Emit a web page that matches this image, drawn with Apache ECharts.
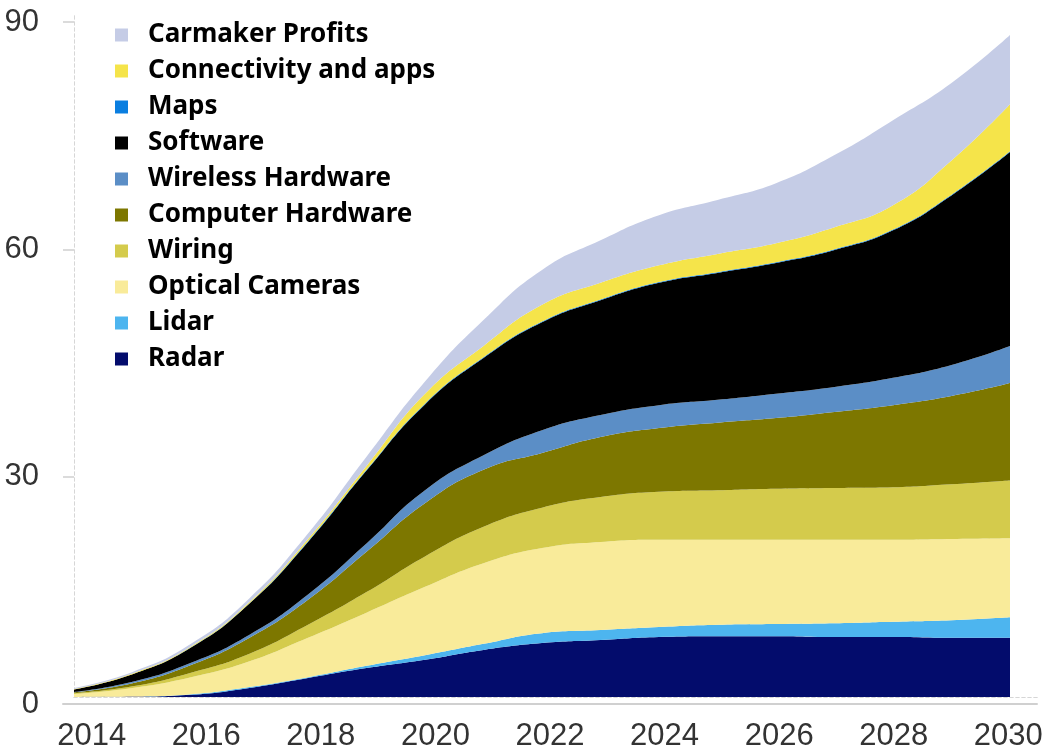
<!DOCTYPE html>
<html>
<head>
<meta charset="utf-8">
<script src="https://cdn.jsdelivr.net/npm/echarts@6/dist/echarts.min.js"></script>
<style>
  html, body { margin: 0; padding: 0; background: #fff; }
  #chart { width: 1050px; height: 752px; }
</style>
</head>
<body>
<div id="chart"></div>
<script>
// years shown on the axis
const years = ['2014', '2015', '2016', '2017', '2018', '2019', '2020', '2021', '2022',
  '2023', '2024', '2025', '2026', '2027', '2028', '2029', '2030'];
const yTicks = [0, 30, 60, 90];

// values per layer, bottom of the stack first
const radar = [0, 0.05, 0.3, 1.2, 2.5, 3.8, 4.9, 6.2, 7.1, 7.5, 7.9, 8.0, 8.0, 7.9, 7.9, 7.8, 7.8];
const lidar = [0, 0, 0.05, 0.1, 0.1, 0.3, 0.6, 0.8, 1.3, 1.3, 1.3, 1.5, 1.6, 1.8, 2.0, 2.3, 2.7];
const opticalCameras = [0.4, 1.15, 2.25, 3.4, 5.2, 7.0, 9.0, 10.6, 11.2, 11.6, 11.5, 11.2, 11.1, 11.0, 10.8, 10.7, 10.4];
const wiring = [0.1, 0.2, 0.6, 1.0, 1.7, 2.7, 4.0, 4.8, 5.3, 5.9, 6.3, 6.5, 6.7, 6.8, 6.9, 7.2, 7.6];
const computerHardware = [0.1, 0.4, 1.0, 2.1, 3.3, 5.3, 7.0, 7.5, 7.2, 7.9, 8.4, 8.9, 9.3, 10.0, 10.8, 11.6, 12.8];
const wirelessHardware = [0.05, 0.2, 0.3, 0.4, 0.7, 1.1, 1.7, 1.9, 3.0, 2.9, 3.0, 3.0, 3.2, 3.3, 3.6, 4.1, 4.9];
const software = [0.35, 1.0, 2.0, 4.1, 6.9, 9.6, 11.3, 12.8, 14.2, 15.1, 16.1, 16.7, 17.2, 18.0, 19.4, 22.3, 25.5];
const maps = [0, 0, 0.05, 0.05, 0.1, 0.1, 0.1, 0.1, 0.1, 0.1, 0.1, 0.1, 0.1, 0.1, 0.1, 0.1, 0.1];
const connectivity = [0.05, 0.1, 0.1, 0.15, 0.3, 0.5, 1.3, 1.5, 2.2, 2.2, 2.2, 2.4, 2.5, 2.9, 3.2, 4.5, 6.2];
const carmakerProfits = [0.15, 0.2, 0.35, 0.5, 0.7, 1.2, 1.6, 3.4, 4.6, 5.6, 6.6, 7.1, 7.9, 9.5, 11.2, 10.2, 9.1];

const layers = [
  { name: 'Radar', data: radar, color: '#030c6c' },
  { name: 'Lidar', data: lidar, color: '#4db5ef' },
  { name: 'Optical Cameras', data: opticalCameras, color: '#f9eb9a' },
  { name: 'Wiring', data: wiring, color: '#d4cb4c' },
  { name: 'Computer Hardware', data: computerHardware, color: '#7d7700' },
  { name: 'Wireless Hardware', data: wirelessHardware, color: '#5b8ec6' },
  { name: 'Software', data: software, color: '#000000' },
  { name: 'Maps', data: maps, color: '#0a7ee0' },
  { name: 'Connectivity and apps', data: connectivity, color: '#f5e44a' },
  { name: 'Carmaker Profits', data: carmakerProfits, color: '#c5cce6' },
];

const chart = echarts.init(document.getElementById('chart'));

const dashed = { show: true, lineStyle: { color: '#d6d6d6', width: 1, type: [3, 3] } };
const hidden = { axisLabel: { show: false }, axisTick: { show: false }, splitLine: { show: false } };

const option = {
  animation: false,
  backgroundColor: '#fff',
  grid: [
    // frame carrying the visible axes
    { left: 63, right: 13, top: 22, bottom: 45 },
    // plot region holding the areas
    { left: 74, right: 40, top: 13, bottom: 55 },
    // dashed picture frame
    { left: 74, right: 10, top: 13, bottom: 55 },
  ],
  legend: {
    orient: 'vertical',
    left: 115,
    top: 22,
    padding: 0,
    icon: 'rect',
    itemWidth: 13,
    itemHeight: 13,
    itemGap: 10,
    data: layers.map((l) => l.name).reverse(),
    textStyle: {
      fontFamily: 'Noto Sans',
      fontWeight: 'bold',
      fontSize: 26,
      lineHeight: 24,
      color: '#000',
      padding: [0, 0, 0, 15],
    },
  },
  xAxis: [
    {
      type: 'category',
      gridIndex: 0,
      data: years,
      boundaryGap: true,
      axisLine: { lineStyle: { color: '#d0d0d0', width: 2 } },
      axisTick: { show: false },
      axisLabel: {
        interval: 1,
        margin: 17,
        fontFamily: 'Liberation Sans',
        fontSize: 31,
        color: '#333',
      },
    },
    {
      type: 'category',
      gridIndex: 1,
      data: years,
      boundaryGap: false,
      axisLine: { show: false },
      ...hidden,
    },
    { type: 'value', gridIndex: 2, min: 0, max: 1, position: 'bottom', axisLine: dashed, ...hidden },
    { type: 'value', gridIndex: 2, min: 0, max: 1, position: 'top', axisLine: dashed, ...hidden },
  ],
  yAxis: [
    {
      type: 'value',
      gridIndex: 0,
      min: yTicks[0],
      max: yTicks[yTicks.length - 1],
      interval: 30,
      axisLine: { show: false },
      axisTick: { show: true, inside: true, length: 11, lineStyle: { color: '#cfcfcf', width: 1.5 } },
      splitLine: { show: false },
      axisLabel: {
        margin: 24,
        fontFamily: 'Liberation Sans',
        fontSize: 31,
        color: '#333',
      },
    },
    {
      type: 'value',
      gridIndex: 1,
      min: 0,
      max: 90,
      axisLine: { show: false },
      ...hidden,
    },
    { type: 'value', gridIndex: 2, min: 0, max: 1, position: 'left', axisLine: dashed, ...hidden },
    { type: 'value', gridIndex: 2, min: 0, max: 1, position: 'right', axisLine: dashed, ...hidden },
  ],
  series: layers.map((l) => ({
    name: l.name,
    type: 'line',
    xAxisIndex: 1,
    yAxisIndex: 1,
    stack: 'total',
    smooth: true,
    showSymbol: false,
    symbol: 'none',
    color: l.color,
    lineStyle: { width: 0 },
    areaStyle: { color: l.color, opacity: 1 },
    data: l.data,
  })),
};

chart.setOption(option);
</script>
</body>
</html>
